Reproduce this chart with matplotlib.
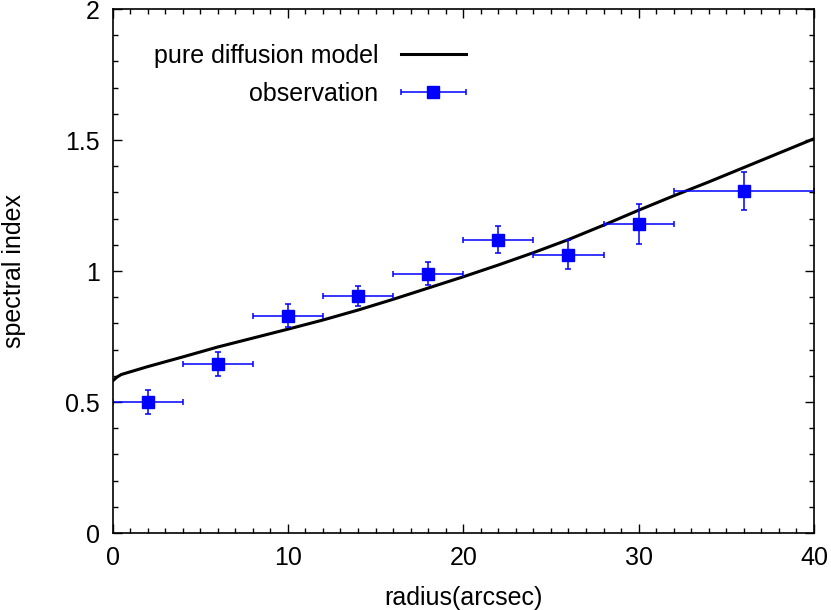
import numpy as np
import matplotlib.pyplot as plt
from matplotlib.ticker import MultipleLocator
from matplotlib.legend_handler import HandlerErrorbar

plt.rcParams['font.family'] = ['Liberation Sans', 'DejaVu Sans']

# observation
radius = [2, 6, 10, 14, 18, 22, 26, 30, 36]
radius_err = [2, 2, 2, 2, 2, 2, 2, 2, 4]
index = [0.50, 0.645, 0.83, 0.905, 0.99, 1.12, 1.062, 1.18, 1.305]
index_err = [0.044, 0.046, 0.043, 0.039, 0.045, 0.053, 0.055, 0.076, 0.073]

# pure diffusion model
model_r = [0, 0.25, 0.5, 1, 2, 4, 6, 8, 10, 12, 14, 16, 18, 20, 22, 24, 26, 28,
           30, 32, 34, 36, 38, 40]
model_idx = [0.58, 0.595, 0.605, 0.615, 0.635, 0.672, 0.71, 0.744, 0.778, 0.813,
             0.851, 0.892, 0.935, 0.978, 1.023, 1.07, 1.12, 1.175, 1.232, 1.287,
             1.34, 1.395, 1.45, 1.505]

fs = 18

fig = plt.figure(figsize=(8.31, 6.10), dpi=100)
ax = fig.add_axes([0.1354, 0.1262, 0.8441, 0.8590])

ax.plot(model_r, model_idx, color='black', lw=2.2, label='pure diffusion model')
ax.errorbar(radius, index, xerr=radius_err, yerr=index_err, fmt='s', color='#0000ff',
            ms=8, elinewidth=1.1, capsize=2.5, capthick=1.1, label='observation')

ax.set_xlim(0, 40)
ax.set_ylim(0, 2)
ax.xaxis.set_major_locator(MultipleLocator(10))
ax.xaxis.set_minor_locator(MultipleLocator(1))
ax.yaxis.set_minor_locator(MultipleLocator(0.1))
ax.set_yticks([0, 0.5, 1, 1.5, 2])
ax.set_yticklabels(['0', '0.5', '1', '1.5', '2'])
ax.tick_params(which='both', direction='in', top=True, right=True, labelsize=fs, width=1)
ax.tick_params(which='major', length=6.5, pad=9)
ax.tick_params(which='minor', length=3.3)
for s in ax.spines.values():
    s.set_linewidth(1.2)

ax.set_xlabel('radius(arcsec)', fontsize=fs, labelpad=12)
ax.set_ylabel('spectral index', fontsize=fs, labelpad=28)

ax.legend(loc='upper right', bbox_to_anchor=(0.536, 0.976), frameon=False, markerfirst=False,
          fontsize=fs, handlelength=2.6, labelspacing=0.55, handletextpad=0.9,
          handler_map={type(ax.containers[0]): HandlerErrorbar(xerr_size=1.3, yerr_size=0)})

fig.savefig('out.png', dpi=100)
